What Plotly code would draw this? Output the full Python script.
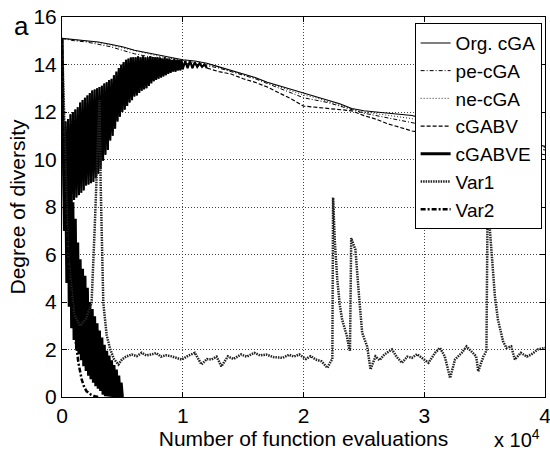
import plotly.graph_objects as go

# ---------------- data (x in units of 10^4 function evaluations) ----------------
org_x = [0, 0.1, 0.2, 0.3, 0.4, 0.5, 0.6, 0.7, 0.8, 0.9, 1.0, 1.1, 1.2, 1.3, 1.4, 1.5, 1.6, 1.7, 1.8, 1.9,
         2.0, 2.1, 2.2, 2.3, 2.4, 2.5, 2.6, 2.7, 2.8, 2.9, 3.0, 3.2, 3.4, 3.6, 3.8, 4.0]
org_y = [15.1, 15.05, 15.0, 14.95, 14.85, 14.75, 14.6, 14.5, 14.4, 14.3, 14.2, 14.15, 14.05, 13.9, 13.75, 13.6,
         13.45, 13.25, 13.1, 12.95, 12.8, 12.65, 12.5, 12.35, 12.15, 12.05, 12.0, 11.95, 11.9, 11.85, 11.7,
         11.5, 11.25, 11.05, 10.8, 10.55]

pe_x = org_x
pe_y = [15.1, 15.0, 14.95, 14.85, 14.75, 14.6, 14.45, 14.35, 14.25, 14.15, 14.05, 14.0, 13.95, 13.85, 13.7,
        13.55, 13.4, 13.2, 13.0, 12.8, 12.6, 12.5, 12.4, 12.25, 12.1, 11.95, 11.85, 11.75, 11.65, 11.55, 11.45,
        11.25, 11.05, 10.85, 10.6, 10.4]

ne_x = org_x
ne_y = [15.1, 15.05, 14.98, 14.92, 14.82, 14.7, 14.56, 14.45, 14.35, 14.26, 14.17, 14.1, 14.0, 13.87, 13.72,
        13.58, 13.42, 13.23, 13.05, 12.9, 12.72, 12.6, 12.46, 12.3, 12.12, 12.0, 11.93, 11.86, 11.8, 11.72,
        11.6, 11.4, 11.15, 10.95, 10.7, 10.5]

cgabv_x = [0, 0.01, 0.02, 0.03, 0.04, 0.05, 0.06, 0.07, 0.08, 0.09, 0.10, 0.11, 0.12, 0.13, 0.14, 0.15, 0.16,
           0.17, 0.18, 0.19, 0.20, 0.21, 0.22, 0.23, 0.24, 0.25, 0.26, 0.27, 0.28, 0.29, 0.30, 0.31, 0.32, 0.33,
           0.34, 0.35, 0.36, 0.37, 0.38, 0.39, 0.40, 0.41, 0.42, 0.43, 0.44, 0.45, 0.46, 0.47, 0.48, 0.49, 0.50,
           0.51, 0.52, 0.53, 0.54, 0.55, 0.56, 0.57, 0.58, 0.59, 0.60,
           0.61, 0.62, 0.63, 0.64, 0.65, 0.66, 0.67, 0.68, 0.69, 0.70, 0.71, 0.72, 0.73, 0.74, 0.75, 0.76, 0.77,
           0.78, 0.79, 0.80, 0.81, 0.82, 0.83, 0.84, 0.85, 0.86, 0.87, 0.88, 0.89, 0.90, 0.91, 0.92, 0.93, 0.94,
           0.95, 0.96, 0.97, 0.98, 0.99, 1.00,
           1.02, 1.04, 1.06, 1.08, 1.10, 1.12, 1.14, 1.16, 1.18, 1.20,
           1.3, 1.4, 1.5, 1.6, 1.7, 1.8, 1.9, 2.0, 2.1, 2.2, 2.3, 2.4, 2.5, 2.6, 2.7, 2.8, 2.9, 3.0, 3.2, 3.4,
           3.6, 3.8, 4.0]
cgabv_y = [15.1, 11.5, 7.0, 11.6, 7.6, 11.7, 7.9, 11.9, 8.1, 12.0, 8.3, 12.1, 8.4, 12.2, 8.5, 12.4, 8.6, 12.5,
           8.7, 12.6, 8.9, 12.7, 8.95, 12.8, 9.0, 12.9, 9.05, 12.95, 9.2, 13.0, 9.4, 13.05, 9.6, 13.1, 9.95,
           13.2, 10.2, 13.25, 10.4, 13.35, 10.8, 13.4, 11.0, 13.55, 11.3, 13.7, 11.6, 13.85, 11.8, 14.0, 12.0,
           14.1, 12.1, 14.2, 12.25, 14.25, 12.4, 14.3, 12.5, 14.3, 12.65,
           14.3, 12.7, 14.35, 12.8, 14.3, 12.9, 14.35, 12.95, 14.3, 13.0, 14.3, 13.1, 14.35, 13.2, 14.3, 13.3,
           14.3, 13.35, 14.3, 13.4, 14.3, 13.45, 14.25, 13.5, 14.3, 13.55, 14.25, 13.6, 14.25, 13.65, 14.2,
           13.7, 14.25, 13.7, 14.2, 13.75, 14.2, 13.75, 14.2, 13.8,
           14.15, 13.85, 14.15, 13.85, 14.1, 13.9, 14.05, 13.9, 14.0, 13.85,
           13.7, 13.6, 13.4, 13.25, 13.05, 12.8, 12.55, 12.25, 12.2, 12.15, 12.1, 12.05, 11.85, 11.7, 11.5,
           11.35, 11.2, 11.1, 10.9, 10.7, 10.55, 10.35, 10.2]

cgabve_x = [0, 0.01, 0.02, 0.03, 0.04, 0.05, 0.06, 0.07, 0.08, 0.09, 0.10, 0.11, 0.12, 0.13, 0.14, 0.15, 0.16,
            0.17, 0.18, 0.19, 0.20, 0.21, 0.22, 0.23, 0.24, 0.25, 0.26, 0.27, 0.28, 0.29, 0.30, 0.31, 0.32,
            0.33, 0.34, 0.35, 0.36, 0.37, 0.38, 0.39, 0.40, 0.41, 0.42, 0.43, 0.44, 0.45, 0.46, 0.47, 0.48,
            0.49, 0.50]
cgabve_y = [15.1, 10.4, 7.0, 9.8, 4.8, 9.3, 3.8, 8.7, 2.9, 8.2, 2.4, 7.5, 2.0, 6.5, 1.8, 5.8, 1.55, 5.4, 1.3,
            5.1, 1.1, 4.6, 0.9, 4.0, 0.75, 3.7, 0.6, 3.4, 0.45, 3.1, 0.35, 2.8, 0.25, 2.5, 0.1, 2.2, 0.03, 1.95,
            0.02, 1.75, 0.01, 1.55, 0, 1.35, 0, 1.15, 0, 0.9, 0, 0.6, 0]

var1_x = [0, 0.05, 0.1, 0.15, 0.2, 0.245, 0.27, 0.3, 0.31, 0.32, 0.342, 0.37, 0.4, 0.43, 0.468, 0.496, 0.53,
          0.578, 0.62, 0.66, 0.7, 0.74, 0.78, 0.82, 0.86, 0.908, 0.95, 0.99, 1.05, 1.1, 1.155, 1.2, 1.237,
          1.28, 1.32, 1.374, 1.42, 1.484, 1.53, 1.594, 1.64, 1.69, 1.75, 1.827, 1.88, 1.92, 1.965, 2.02, 2.06,
          2.10, 2.15, 2.198, 2.226, 2.239, 2.245, 2.26, 2.28, 2.30, 2.32, 2.36, 2.377, 2.385, 2.395, 2.43,
          2.46, 2.486, 2.527, 2.555, 2.596, 2.63, 2.67, 2.733, 2.77, 2.816, 2.86, 2.898, 2.94, 2.98, 3.035,
          3.09, 3.13, 3.17, 3.214, 3.255, 3.31, 3.35, 3.39, 3.43, 3.447, 3.49, 3.507, 3.515, 3.525, 3.55,
          3.585, 3.61, 3.653, 3.68, 3.72, 3.75, 3.80, 3.85, 3.886, 3.94, 4.0]
var1_y = [15.1, 6.0, 3.5, 3.0, 3.3, 3.96, 7.0, 11.0, 12.5, 9.0, 3.96, 2.6, 2.0, 1.6, 1.37, 1.58, 1.7, 1.79,
          1.72, 1.86, 1.75, 1.79, 1.85, 1.7, 1.76, 1.71, 1.65, 1.58, 1.75, 1.86, 1.37, 1.6, 1.58, 1.7, 1.29,
          1.71, 1.6, 1.79, 1.7, 1.86, 1.75, 1.79, 1.68, 1.65, 1.78, 1.7, 1.79, 1.6, 1.72, 1.58, 1.5, 1.23, 1.5,
          1.6, 8.4, 6.5, 4.94, 3.9, 3.26, 2.55, 2.07, 1.95, 6.69, 6.2, 4.24, 2.70, 2.13, 1.16, 1.71, 1.55,
          1.79, 2.0, 1.7, 1.44, 1.7, 1.65, 1.8, 1.65, 1.44, 1.86, 2.07, 1.71, 0.8, 1.58, 1.86, 2.13, 1.92,
          1.71, 1.08, 1.71, 1.86, 2.0, 8.3, 6.5, 4.24, 3.26, 2.34, 2.07, 2.13, 1.58, 1.86, 1.7, 1.79, 2.0,
          2.07]

var2_x = [0, 0.01, 0.03, 0.06, 0.09, 0.11, 0.136, 0.163, 0.185, 0.204, 0.24, 0.273, 0.3]
var2_y = [15.1, 10.5, 7.5, 5.0, 3.3, 2.4, 1.44, 0.74, 0.4, 0.24, 0.1, 0.03, 0.0]

x_ticks = [0, 1, 2, 3, 4]
x_tick_labels = ["0", "1", "2", "3", "4"]
y_ticks = [0, 2, 4, 6, 8, 10, 12, 14, 16]

FONT = "Liberation Sans, Arial, sans-serif"

fig = go.Figure()

# dense oscillating early part of cGABV, drawn solid so the band reads as a filled black mass
band_end = cgabv_x.index(1.2) + 1
fig.add_trace(go.Scatter(x=cgabv_x[:band_end], y=cgabv_y[:band_end], mode="lines", showlegend=False,
                         hoverinfo="skip", line=dict(color="black", width=2.1)))

series = [
    ("Org. cGA", org_x, org_y, dict(color="black", width=1.1, dash="solid")),
    ("pe-cGA", pe_x, pe_y, dict(color="black", width=1, dash="4px,2px,1px,2px")),
    ("ne-cGA", ne_x, ne_y, dict(color="#222222", width=1, dash="1px,2px")),
    ("cGABV", cgabv_x, cgabv_y, dict(color="black", width=1.2, dash="4px,2px")),
    ("cGABVE", cgabve_x, cgabve_y, dict(color="black", width=3, dash="solid")),
    ("Var1", var1_x, var1_y, dict(color="#222222", width=2.5, dash="1.5px,1px")),
    ("Var2", var2_x, var2_y, dict(color="black", width=2.5, dash="5px,2px,2px,2px")),
]
for name, xs, ys, line in series:
    fig.add_trace(go.Scatter(x=xs, y=ys, mode="lines", name=name, line=line))

axis_common = dict(
    showline=True, linecolor="black", linewidth=1, mirror="ticks",
    ticks="inside", ticklen=5, tickcolor="black", tickwidth=1,
    showgrid=True, gridcolor="#444444", gridwidth=1, griddash="1px,2px",
    zeroline=False, tickfont=dict(family=FONT, size=21, color="black"),
    automargin=False, ticklabeloverflow="allow",
)
fig.update_xaxes(range=[0, 4], tickvals=x_ticks, ticktext=x_tick_labels,
                 title=dict(text="Number of function evaluations", standoff=3,
                            font=dict(family=FONT, size=21, color="black")),
                 **axis_common)
fig.update_yaxes(range=[0, 16], tickvals=y_ticks,
                 title=dict(text="Degree of diversity", standoff=2,
                            font=dict(family=FONT, size=21, color="black")),
                 **axis_common)

fig.add_annotation(text="a", xref="paper", yref="paper", x=-0.083, y=0.976,
                   xanchor="center", yanchor="middle", showarrow=False,
                   font=dict(family=FONT, size=26, color="black"))
fig.add_annotation(text="x 10<sup>4</sup>", xref="paper", yref="paper", x=0.994, y=-0.07,
                   xanchor="right", yanchor="top", showarrow=False,
                   font=dict(family=FONT, size=20, color="black"))

fig.update_layout(
    width=550, height=452,
    margin=dict(l=62, r=5, t=17, b=55, pad=0),
    paper_bgcolor="white", plot_bgcolor="white",
    showlegend=True,
    legend=dict(x=0.993, y=0.984, xanchor="right", yanchor="top",
                bgcolor="white", bordercolor="black", borderwidth=1,
                font=dict(family=FONT, size=19, color="black"),
                itemwidth=30, tracegroupgap=0),
    font=dict(family=FONT, color="black"),
)

fig.write_html("out.html")
